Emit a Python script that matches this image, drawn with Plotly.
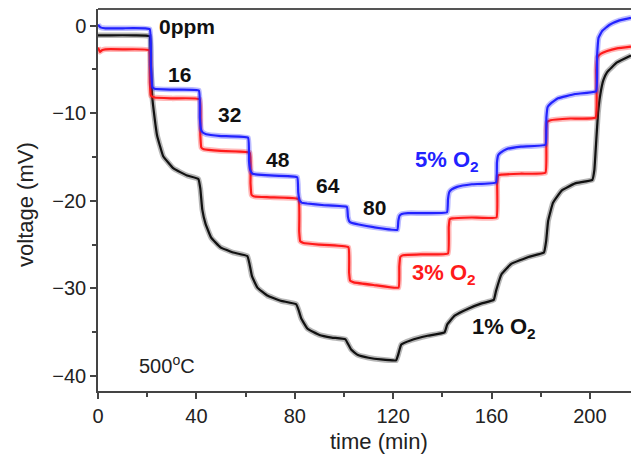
import plotly.graph_objects as go

# ---- data (time in min, voltage in mV) ----
t_5 = [0, 1, 3, 10, 21.0, 21.5, 22.1, 23, 30, 41.0,
       41.4, 41.9, 42.6, 44, 50, 61.0,
       61.4, 61.9, 62.8, 65, 70, 81.0,
       81.4, 81.9, 82.8, 85, 92, 101.2,
       101.6, 102.1, 103, 106, 112, 121.7,
       122.1, 122.6, 123.5, 126, 132, 141.9,
       142.3, 142.8, 143.8, 146, 152, 161.8,
       162.2, 162.7, 163.7, 166, 172, 181.9,
       182.3, 182.8, 184, 187, 194, 202.5,
       202.9, 203.5, 205, 208, 212, 216.7]
v_5 = [0.1, -0.2, -0.3, -0.3, -0.4, -4.5, -7.0, -7.2, -7.3, -7.4,
       -10.5, -11.9, -12.2, -12.4, -12.6, -12.8,
       -15.5, -16.5, -16.9, -17.0, -17.1, -17.3,
       -19.0, -19.9, -20.2, -20.3, -20.5, -20.7,
       -21.8, -22.3, -22.5, -22.7, -23.0, -23.3,
       -22.3, -21.7, -21.5, -21.4, -21.4, -21.3,
       -19.8, -19.0, -18.7, -18.4, -18.1, -17.9,
       -15.6, -14.8, -14.5, -14.1, -13.8, -13.6,
       -10.5, -9.3, -8.9, -8.3, -7.8, -7.5,
       -3.5, -1.4, -0.6, 0.1, 0.6, 0.9]

t_3 = [0, 0.8, 1.6, 3, 10, 20.8,
       21.1, 21.5, 23, 30, 41.3,
       41.6, 42.0, 43, 50, 61.7,
       62.0, 62.4, 63.5, 70, 81.5,
       81.8, 82.2, 83.5, 90, 101.8,
       102.1, 102.5, 104, 112, 122.2,
       122.5, 122.9, 124, 132, 142.3,
       142.6, 143.0, 144, 152, 162.0,
       162.3, 162.7, 164, 172, 181.9,
       182.2, 182.6, 184, 192, 202.3,
       202.6, 203.1, 204.5, 207, 211, 216.7]
v_3 = [-2.5, -3.0, -2.8, -2.7, -2.7, -2.8,
       -6.5, -8.0, -8.2, -8.3, -8.4,
       -12.5, -13.9, -14.1, -14.3, -14.5,
       -18.0, -19.3, -19.5, -19.6, -19.8,
       -23.5, -24.6, -24.8, -25.0, -25.3,
       -28.2, -29.1, -29.3, -29.6, -29.9,
       -27.5, -26.4, -26.2, -26.1, -26.0,
       -23.0, -22.1, -22.0, -21.9, -21.9,
       -18.0, -17.1, -17.0, -16.9, -16.8,
       -12.0, -11.0, -10.8, -10.6, -10.5,
       -5.0, -3.6, -3.2, -2.9, -2.6, -2.4]

t_1 = [0, 5, 15, 21.0, 21.4, 22.0, 23.0, 24.0, 26.5, 30.7, 36.2, 40.8,
       41.6, 42.4, 43.7, 46.0, 49.8, 55.0, 60.7,
       61.6, 62.6, 64.8, 68.8, 74.3, 80.6,
       81.6, 82.6, 85.2, 90.0, 95.0, 100.6,
       101.6, 103.0, 105.7, 110.0, 115.0, 121.2,
       122.0, 123.3, 127.3, 134.0, 140.9,
       142.0, 145.0, 150.5, 156.0, 160.9,
       161.8, 164.0, 168.0, 175.0, 181.3,
       182.2, 183.0, 185.0, 188.6, 194.0, 201.0,
       201.8, 202.6, 203.3, 204.2, 205.5, 207.0, 211.0, 216.7]
v_1 = [-1.1, -1.1, -1.1, -1.2, -4.0, -8.0, -10.5, -12.5, -14.9, -16.3, -17.1, -17.5,
       -18.6, -21.0, -22.6, -24.2, -25.3, -25.9, -26.3,
       -27.2, -28.6, -29.9, -30.8, -31.4, -31.8,
       -32.5, -33.4, -34.6, -35.3, -35.6, -35.8,
       -36.3, -37.0, -37.6, -37.9, -38.1, -38.2,
       -37.6, -36.4, -35.9, -35.4, -35.0,
       -34.1, -33.1, -32.3, -31.7, -31.3,
       -30.3, -28.4, -27.2, -26.4, -25.9,
       -24.6, -22.3, -20.2, -18.8, -18.0, -17.6,
       -16.5, -13.0, -10.0, -7.9, -6.2, -5.3, -4.2, -3.4]

step_labels = ["0ppm", "16", "32", "48", "64", "80"]
step_label_t = [36.0, 33.3, 53.5, 73.0, 93.7, 112.6]
step_label_v = [-0.1, -5.6, -10.1, -15.25, -18.2, -20.7]

x_ticks = [0, 40, 80, 120, 160, 200]
y_ticks = [0, -10, -20, -30, -40]

FONT = "Liberation Sans, Arial, Helvetica, sans-serif"
BLUE = "#2222ff"
RED = "#ff1a1a"
BLACK = "#111111"

fig = go.Figure()
for t, v, c in [(t_1, v_1, BLACK), (t_3, v_3, RED), (t_5, v_5, BLUE)]:
    fig.add_trace(go.Scatter(x=t, y=v, mode="lines",
                             line=dict(color=c, width=5.5, shape="spline", smoothing=0.3),
                             opacity=0.3, hoverinfo="skip", showlegend=False))
    fig.add_trace(go.Scatter(x=t, y=v, mode="lines",
                             line=dict(color=c, width=2.2, shape="spline", smoothing=0.3),
                             showlegend=False))

for txt, tx, vy in zip(step_labels, step_label_t, step_label_v):
    fig.add_annotation(x=tx, y=vy, text="<b>%s</b>" % txt, showarrow=False,
                       font=dict(family=FONT, size=21, color="#111"),
                       xanchor="center", yanchor="middle")

fig.add_annotation(x=128.0, y=-15.4, text="<b>5% O<sub>2</sub></b>", showarrow=False,
                   font=dict(family=FONT, size=22, color=BLUE), xanchor="left", yanchor="middle")
fig.add_annotation(x=126.8, y=-28.4, text="<b>3% O<sub>2</sub></b>", showarrow=False,
                   font=dict(family=FONT, size=22, color=RED), xanchor="left", yanchor="middle")
fig.add_annotation(x=151.2, y=-34.5, text="<b>1% O<sub>2</sub></b>", showarrow=False,
                   font=dict(family=FONT, size=22, color=BLACK), xanchor="left", yanchor="middle")
fig.add_annotation(x=15.9, y=-38.7, text="500<sup>o</sup>C", showarrow=False,
                   font=dict(family=FONT, size=20, color="#222"), xanchor="left", yanchor="middle")

# axis titles
fig.add_annotation(xref="paper", yref="paper", x=0.527, y=-0.132, text="time (min)",
                   showarrow=False, font=dict(family=FONT, size=22, color="#222"),
                   xanchor="center", yanchor="middle")
fig.add_annotation(xref="paper", yref="paper", x=-0.137, y=0.4895, text="voltage (mV)",
                   textangle=-90, showarrow=False, font=dict(family=FONT, size=22, color="#222"),
                   xanchor="center", yanchor="middle")

# top frame line
fig.add_shape(type="line", xref="paper", yref="paper", x0=0, x1=1, y0=1, y1=1,
              line=dict(color="#555", width=2))

fig.update_xaxes(range=[0, 216.7], tickvals=x_ticks, ticks="outside", ticklen=6,
                 tickwidth=1.5, tickcolor="#444", showline=True, linecolor="#444",
                 linewidth=1.5, showgrid=False, zeroline=False,
                 tickfont=dict(family=FONT, size=20, color="#222"),
                 minor=dict(dtick=20, tick0=0, ticks="outside", ticklen=4,
                            tickwidth=1.5, tickcolor="#444", showgrid=False))
fig.update_yaxes(range=[-41.7, 1.9], tickvals=y_ticks, ticks="outside", ticklen=6,
                 tickwidth=1.5, tickcolor="#444", showline=True, linecolor="#444",
                 linewidth=1.5, showgrid=False, zeroline=False,
                 tickfont=dict(family=FONT, size=20, color="#222"),
                 minor=dict(dtick=5, tick0=0, ticks="outside", ticklen=4,
                            tickwidth=1.5, tickcolor="#444", showgrid=False))

fig.update_layout(width=631, height=455, margin=dict(l=98, r=0, t=9, b=64),
                  paper_bgcolor="white", plot_bgcolor="white", showlegend=False)

fig.write_html("out.html")
